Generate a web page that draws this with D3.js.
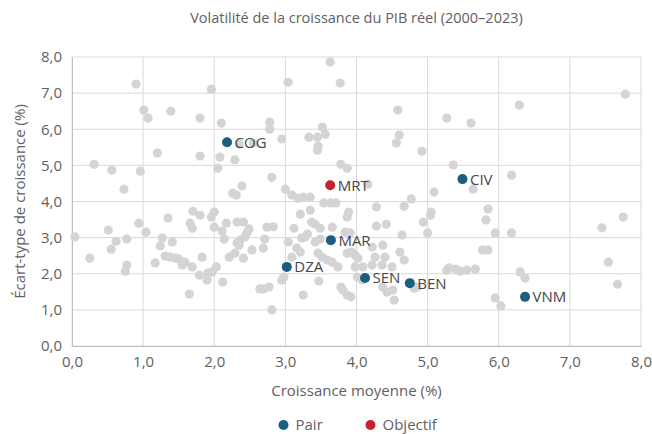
<!DOCTYPE html>
<html>
<head>
<meta charset="utf-8">
<script src="https://cdn.jsdelivr.net/npm/d3@7"></script>
<style>
	body { margin: 0; background: #fff; }
	svg text { font-family: "Open Sans", sans-serif; }
</style>
</head>
<body>
<div id="chart"></div>
<script>
(function() {
	"use strict";

	// autres pays : [croissance moyenne, écart-type]
	var autres = [
		[0.04,3.02],[0.25,2.43],[0.31,5.03],[0.51,3.21],[0.56,4.87],[0.55,2.68],[0.62,2.90],[0.73,4.34],
		[0.77,2.96],[0.77,2.24],[0.75,2.07],[0.90,7.25],[0.96,4.84],[0.94,3.40],
		[1.01,6.53],[1.07,6.31],[1.04,3.15],[1.20,5.34],[1.17,2.30],[1.24,2.77],[1.27,2.99],[1.31,2.49],
		[1.35,3.54],[1.39,6.50],[1.41,2.88],[1.38,2.46],[1.46,2.43],[1.50,2.41],[1.55,2.24],[1.59,2.32],
		[1.65,1.44],[1.66,3.40],[1.69,3.26],[1.70,3.73],[1.69,2.19],[1.80,6.31],[1.80,3.62],[1.80,5.26],
		[1.83,2.46],[1.79,1.96],[1.90,1.83],[1.91,2.02],[1.96,7.11],[1.96,3.57],[1.97,2.05],
		[2.00,3.71],[2.00,3.29],[2.03,2.19],[2.05,4.92],[2.08,5.23],[2.10,6.17],[2.11,3.18],[2.12,1.77],
		[2.14,2.96],[2.17,3.40],[2.21,2.46],[2.29,5.15],[2.29,2.57],[2.32,3.43],[2.32,2.85],[2.26,4.23],
		[2.31,4.18],[2.35,5.59],[2.35,2.79],[2.36,2.93],[2.39,4.43],[2.41,3.43],[2.41,2.43],[2.43,3.02],
		[2.46,3.13],[2.49,3.24],[2.53,2.66],[2.55,5.62],[2.64,1.58],[2.69,1.58],[2.69,2.71],[2.71,2.96],
		[2.74,3.29],[2.77,1.63],[2.78,6.20],[2.78,6.00],[2.81,4.67],[2.81,1.00],[2.83,3.30],[2.95,5.73],
		[2.95,1.83],[2.98,1.91],
		[3.00,4.34],[3.04,7.30],[3.04,2.88],[3.09,4.18],[3.09,2.46],[3.12,3.26],[3.16,2.71],[3.18,4.09],
		[3.21,3.65],[3.21,2.60],[3.25,4.12],[3.23,2.99],[3.25,1.41],[3.28,3.02],[3.31,3.10],[3.33,5.78],
		[3.35,4.12],[3.35,3.76],[3.37,3.43],[3.42,3.37],[3.42,2.88],[3.45,5.78],[3.45,5.42],[3.46,5.53],
		[3.46,2.57],[3.47,1.80],[3.49,3.26],[3.49,2.96],[3.52,6.06],[3.52,2.46],[3.54,3.96],[3.56,5.86],
		[3.59,2.38],[3.63,7.86],[3.64,3.96],[3.66,3.29],[3.66,2.32],[3.71,3.96],[3.74,2.19],[3.77,7.28],
		[3.78,5.03],[3.78,1.63],[3.81,1.55],[3.84,3.15],[3.87,1.41],[3.87,4.92],[3.87,3.57],[3.89,3.71],
		[3.87,2.57],[3.91,3.13],[3.92,1.36],[3.93,2.60],[3.98,2.19],[3.98,2.52],
		[4.01,1.91],[4.02,2.43],[4.08,1.83],[4.09,2.19],[4.16,4.48],[4.22,2.74],[4.26,2.46],[4.22,2.24],
		[4.28,3.85],[4.28,3.32],[4.37,2.79],[4.40,2.46],[4.36,2.24],[4.37,1.63],[4.43,1.49],[4.50,2.19],
		[4.51,1.55],[4.53,1.27],[4.42,3.37],[4.56,5.62],[4.60,5.84],[4.58,6.53],[4.61,2.60],[4.64,3.07],
		[4.67,3.87],[4.67,2.38],[4.77,4.07],[4.81,1.60],[4.85,1.63],[4.94,3.43],[4.92,5.39],[5.00,3.13],
		[5.04,3.62],[5.05,3.71],[5.09,4.26],[5.27,6.31],[5.27,2.10],[5.30,2.16],[5.36,5.01],[5.39,2.13],
		[5.46,2.07],[5.55,2.10],[5.67,2.13],[5.61,6.17],[5.64,4.34],[5.77,2.66],[5.85,2.66],[5.82,3.49],
		[5.85,3.79],[5.95,3.13],[5.95,1.33],[6.03,1.11],
		[6.18,4.73],[6.18,3.13],[6.29,6.67],[6.30,2.05],[6.37,1.88],[7.45,3.27],[7.75,3.57],[7.54,2.32],
		[7.67,1.71],[7.78,6.97]
	];

	var pairsNoms = ['COG', 'MAR', 'DZA', 'SEN', 'BEN', 'CIV', 'VNM'];
	var pairsX = [2.18, 3.64, 3.02, 4.12, 4.75, 5.49, 6.37];
	var pairsY = [5.64, 2.93, 2.19, 1.88, 1.74, 4.62, 1.36];

	var objectifNom = 'MRT';
	var objectifX = 3.63;
	var objectifY = 4.45;

	var ticks = [0, 1, 2, 3, 4, 5, 6, 7, 8];

	var width = 652, height = 434;
	var margin = { top: 57, right: 11, bottom: 88, left: 72 };
	var innerW = width - margin.left - margin.right;
	var innerH = height - margin.top - margin.bottom;

	var colors = { autre: '#d4d4d4', pair: '#1b5e80', objectif: '#c8202f', text: '#5f5f5f', label: '#474747' };
	var fmt = function (v) { return d3.format('.1f')(v).replace('.', ','); };

	var svg = d3.select('#chart')
		.append('svg')
		.attr('width', width)
		.attr('height', height);

	var x = d3.scaleLinear().domain([0, 8]).range([0, innerW]);
	var y = d3.scaleLinear().domain([0, 8]).range([innerH, 0]);

	var g = svg.append('g')
		.attr('transform', 'translate(' + margin.left + ',' + margin.top + ')');

	// grille
	g.append('g')
		.selectAll('line')
		.data(ticks)
		.enter()
		.append('line')
		.attr('x1', function (d) { return x(d); })
		.attr('x2', function (d) { return x(d); })
		.attr('y1', 0)
		.attr('y2', innerH)
		.attr('stroke', '#d9d9d9');

	g.append('g')
		.selectAll('line')
		.data(ticks)
		.enter()
		.append('line')
		.attr('x1', 0)
		.attr('x2', innerW)
		.attr('y1', function (d) { return y(d); })
		.attr('y2', function (d) { return y(d); })
		.attr('stroke', '#d9d9d9');

	// axes
	var xAxis = g.append('g')
		.attr('transform', 'translate(0,' + innerH + ')')
		.call(d3.axisBottom(x).tickValues(ticks).tickFormat(fmt).tickSize(0).tickPadding(10));
	var yAxis = g.append('g')
		.call(d3.axisLeft(y).tickValues(ticks).tickFormat(fmt).tickSize(0).tickPadding(10));

	[xAxis, yAxis].forEach(function (a) {
		a.select('.domain').attr('stroke', '#bfbfbf');
		a.selectAll('text')
			.attr('fill', colors.text)
			.style('font-size', '15px');
	});

	// points
	g.append('g')
		.selectAll('circle')
		.data(autres)
		.enter()
		.append('circle')
		.attr('cx', function (d) { return x(d[0]); })
		.attr('cy', function (d) { return y(d[1]); })
		.attr('r', 4.6)
		.attr('fill', colors.autre);

	var pairs = pairsNoms.map(function (nom, i) {
		return { nom: nom, x: pairsX[i], y: pairsY[i], color: colors.pair };
	});
	pairs.push({ nom: objectifNom, x: objectifX, y: objectifY, color: colors.objectif });

	var marks = g.append('g')
		.selectAll('g')
		.data(pairs)
		.enter()
		.append('g')
		.attr('transform', function (d) { return 'translate(' + x(d.x) + ',' + y(d.y) + ')'; });

	marks.append('circle')
		.attr('r', 5)
		.attr('fill', function (d) { return d.color; });

	marks.append('text')
		.attr('x', 7.5)
		.attr('dy', '0.36em')
		.attr('fill', colors.label)
		.style('font-size', '15px')
		.text(function (d) { return d.nom; });

	// titres
	svg.append('text')
		.attr('x', margin.left + innerW / 2)
		.attr('y', 23)
		.attr('text-anchor', 'middle')
		.attr('fill', colors.text)
		.style('font-size', '14.5px')
		.text('Volatilité de la croissance du PIB réel (2000–2023)');

	svg.append('text')
		.attr('x', margin.left + innerW / 2)
		.attr('y', 396)
		.attr('text-anchor', 'middle')
		.attr('fill', colors.text)
		.style('font-size', '15px')
		.text('Croissance moyenne (%)');

	svg.append('text')
		.attr('transform', 'translate(25,' + (margin.top + innerH / 2) + ') rotate(-90)')
		.attr('text-anchor', 'middle')
		.attr('fill', colors.text)
		.style('font-size', '15px')
		.text('Écart-type de croissance (%)');

	// légende
	var legende = [
		{ label: 'Pair', color: colors.pair, cx: 283.5 },
		{ label: 'Objectif', color: colors.objectif, cx: 370.5 }
	];
	var leg = svg.append('g')
		.selectAll('g')
		.data(legende)
		.enter()
		.append('g')
		.attr('transform', function (d) { return 'translate(' + d.cx + ',425)'; });

	leg.append('circle')
		.attr('r', 5)
		.attr('fill', function (d) { return d.color; });

	leg.append('text')
		.attr('x', 12)
		.attr('dy', '0.36em')
		.attr('fill', colors.text)
		.style('font-size', '15px')
		.text(function (d) { return d.label; });
}());
</script>
</body>
</html>
